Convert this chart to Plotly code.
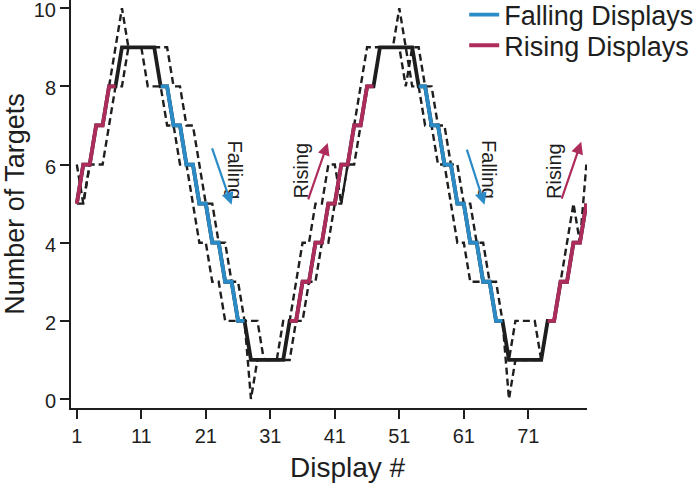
import plotly.graph_objects as go

# display numbers 1..80
display = list(range(1, 81))

# number of targets shown on each display (solid line)
targets = [5, 6, 6, 7, 7, 8, 8, 9, 9, 9,
           9, 9, 9, 8, 8, 7, 7, 6, 6, 5,
           5, 4, 4, 3, 3, 2, 2, 1, 1, 1,
           1, 1, 1, 2, 2, 3, 3, 4, 4, 5,
           5, 6, 6, 7, 7, 8, 8, 9, 9, 9,
           9, 9, 9, 8, 8, 7, 7, 6, 6, 5,
           5, 4, 4, 3, 3, 2, 2, 1, 1, 1,
           1, 1, 1, 2, 2, 3, 3, 4, 4, 5]

# two dashed response traces
resp_a = [6, 5, 6, 7, 7, 8, 9, 10, 9, 9,
          9, 8, 8, 8, 7, 7, 6, 6, 5, 4,
          4, 3, 3, 2, 2, 2, 2, 0, 1, 1,
          1, 1, 2, 2, 3, 4, 4, 5, 5, 6,
          6, 5, 6, 7, 8, 9, 9, 9, 9, 9,
          10, 9, 8, 8, 7, 7, 6, 6, 5, 4,
          4, 3, 3, 3, 3, 2, 2, 0, 1, 1,
          1, 1, 1, 2, 2, 3, 4, 5, 4, 6]

resp_b = [5, 5, 6, 6, 6, 7, 8, 8, 9, 9,
          9, 9, 9, 9, 9, 8, 8, 7, 7, 6,
          5, 5, 4, 4, 3, 3, 2, 2, 2, 1,
          1, 1, 1, 1, 2, 2, 3, 3, 4, 4,
          5, 5, 6, 6, 7, 8, 8, 9, 9, 9,
          9, 8, 9, 9, 8, 8, 7, 7, 6, 6,
          5, 5, 4, 4, 3, 3, 2, 1, 2, 2,
          2, 2, 1, 2, 2, 3, 3, 4, 4, 5]

# (first display, last display) of each coloured run
falling_runs = [(14, 27), (54, 67)]
rising_runs = [(1, 7), (34, 47), (74, 80)]

BLUE = "#2B8BC6"
RED = "#AE2C5B"
INK = "#1e1e1e"
FONT = "Liberation Sans, Arial, sans-serif"

fig = go.Figure()

for resp in [resp_a, resp_b]:
    fig.add_trace(go.Scatter(x=display, y=resp, mode="lines", showlegend=False,
                             line=dict(color=INK, width=2.4, dash="7px,4px")))

fig.add_trace(go.Scatter(x=display, y=targets, mode="lines", showlegend=False,
                         line=dict(color=INK, width=3.8)))

for i, (a, b) in enumerate(falling_runs):
    fig.add_trace(go.Scatter(x=display[a - 1:b], y=targets[a - 1:b], mode="lines",
                             name="Falling Displays", legend="legend", showlegend=(i == 0),
                             line=dict(color=BLUE, width=3.8)))
for i, (a, b) in enumerate(rising_runs):
    fig.add_trace(go.Scatter(x=display[a - 1:b], y=targets[a - 1:b], mode="lines",
                             name="Rising Displays", legend="legend2", showlegend=(i == 0),
                             line=dict(color=RED, width=3.8)))

# labels + arrows
labels = [("Falling", 25.6, 5.86, 90, BLUE, 21.9, 6.45, 25.0, 4.97),
          ("Rising", 35.7, 5.84, -90, RED, 36.8, 5.07, 39.9, 6.55),
          ("Falling", 64.9, 5.86, 90, BLUE, 61.4, 6.42, 64.2, 4.97),
          ("Rising", 75.0, 5.84, -90, RED, 76.1, 5.09, 79.2, 6.58)]
for txt, tx, ty, ang, col, x0, y0, x1, y1 in labels:
    fig.add_annotation(x=tx, y=ty, text=txt, textangle=ang, showarrow=False,
                       font=dict(size=20, color=INK, family=FONT))
    fig.add_annotation(x=x1, y=y1, ax=x0, ay=y0, axref="x", ayref="y", text="",
                       showarrow=True, arrowhead=2, arrowsize=1.1, arrowwidth=2.2,
                       arrowcolor=col, standoff=0)

# x title sits a little right of centre in the original
fig.add_annotation(xref="paper", yref="paper", x=0.537, y=-0.145, text="Display #",
                   showarrow=False, xanchor="center", yanchor="middle",
                   font=dict(size=28, color=INK, family=FONT))

axis_style = dict(showline=True, linecolor=INK, linewidth=2, ticks="outside",
                  ticklen=9, tickwidth=2, tickcolor=INK, showgrid=False, zeroline=False,
                  automargin=False, ticklabeloverflow="allow",
                  tickfont=dict(size=20, color=INK, family=FONT),
                  title_font=dict(size=27, color=INK, family=FONT))

fig.update_xaxes(range=[0.1, 80.1], tickvals=[1, 11, 21, 31, 41, 51, 61, 71],
                 **axis_style)
fig.update_yaxes(range=[-0.23, 10.21], tickvals=[0, 2, 4, 6, 8, 10],
                 title_text="Number of Targets", ticklabelshift=2, **axis_style)

leg = dict(x=0.762, xanchor="left", yanchor="top",
           font=dict(size=27, color=INK, family=FONT),
           bgcolor="rgba(0,0,0,0)", itemwidth=30)

fig.update_layout(width=697, height=488, plot_bgcolor="white", paper_bgcolor="white",
                  margin=dict(l=71, r=110, t=0, b=80, autoexpand=False),
                  font=dict(family=FONT, color=INK),
                  legend=dict(y=1.023, **leg),
                  legend2=dict(y=0.948, **leg))

# page body has an 8px default margin; drop it so the figure sits at 0,0
fig.write_html("out.html", config={"displayModeBar": False},
               post_script="document.body.style.margin='0';")
